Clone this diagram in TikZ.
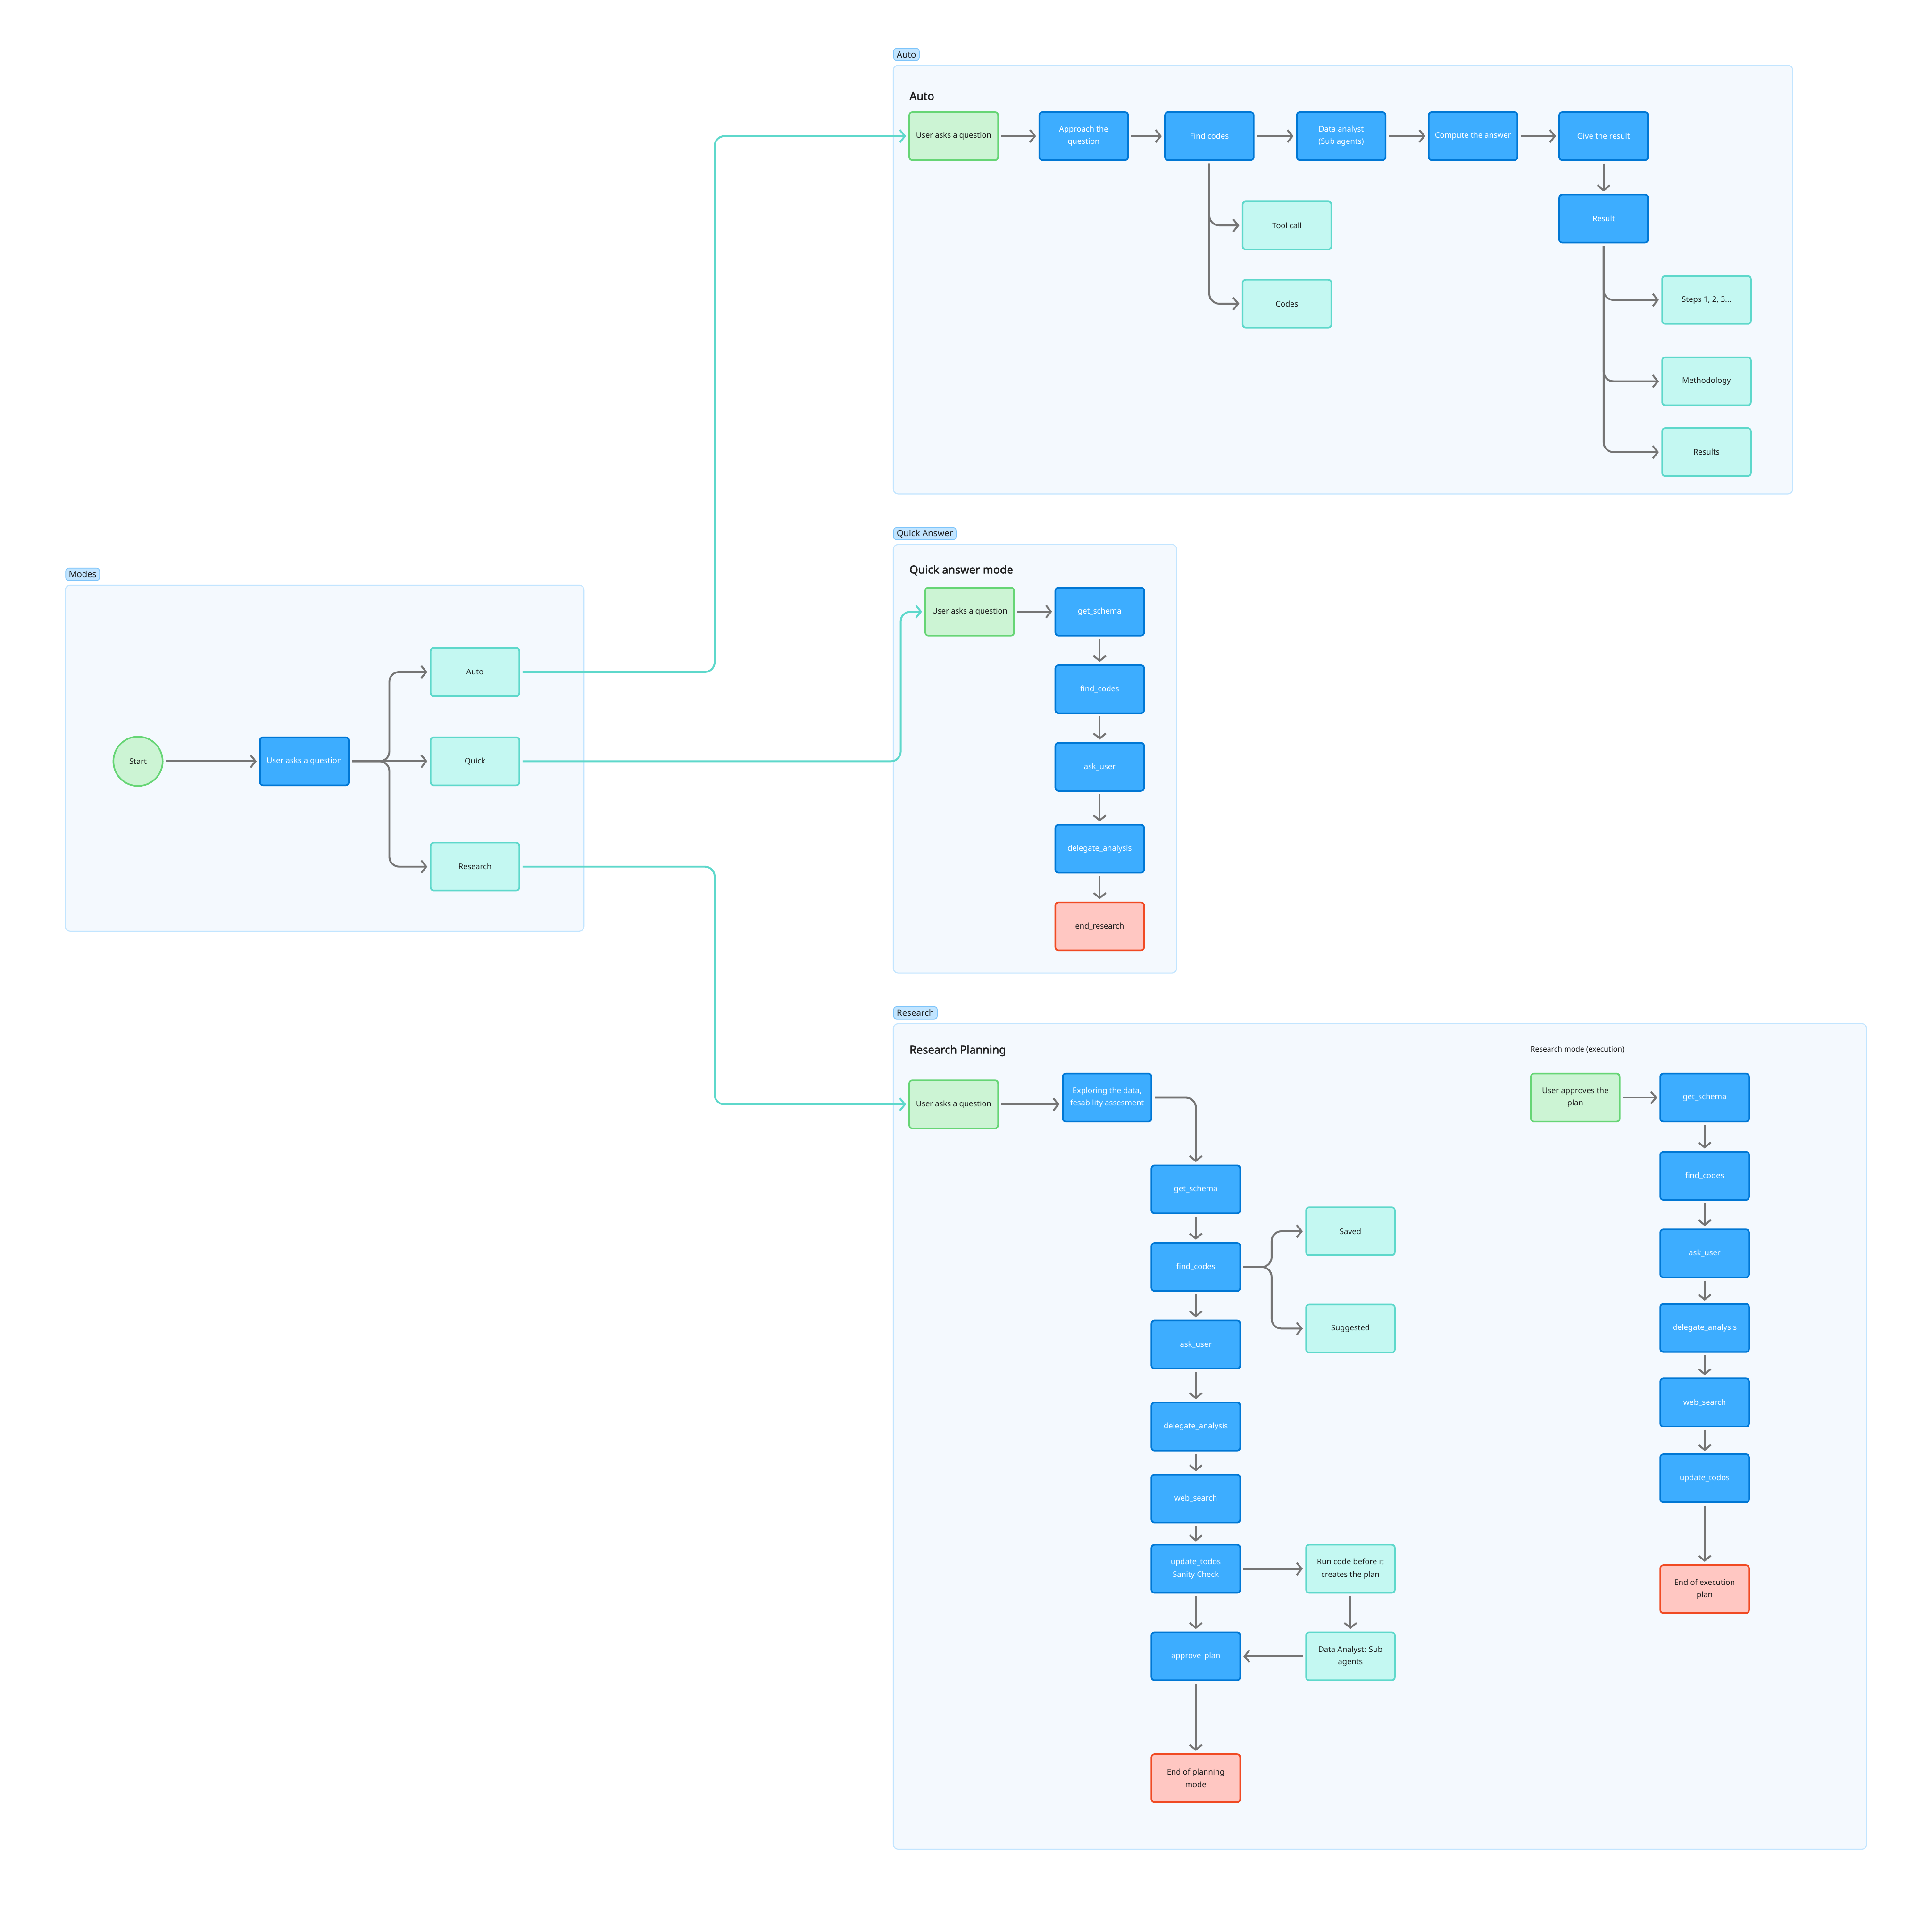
\documentclass[tikz,border=0pt]{standalone}
\usepackage{fontspec}
\setmainfont{Noto Sans}
\newfontfamily\titlefont{Noto Sans}[FakeBold=2.2]
\usetikzlibrary{arrows.meta}
\definecolor{bfill}{HTML}{3DADFF}
\definecolor{bdraw}{HTML}{0077D4}
\definecolor{gfill}{HTML}{CCF4D4}
\definecolor{gdraw}{HTML}{66D575}
\definecolor{tfill}{HTML}{C4F8F2}
\definecolor{tdraw}{HTML}{5ED8CB}
\definecolor{rfill}{HTML}{FFC7C2}
\definecolor{rdraw}{HTML}{F04A23}
\definecolor{frfill}{HTML}{F4F9FE}
\definecolor{frdraw}{HTML}{C2E5FF}
\definecolor{tagfill}{HTML}{C2E5FF}
\definecolor{tagdraw}{HTML}{7DC4FA}
\definecolor{arr}{HTML}{757575}
\definecolor{txt}{HTML}{1E1E1E}
\tikzset{
 box/.style={rectangle, rounded corners=2.5pt, minimum width=72pt, minimum height=39pt, line width=1.3pt, font=\fontsize{6.3}{10}\selectfont, align=center, inner sep=1pt},
 bluebox/.style={box, fill=bfill, draw=bdraw, text=white},
 greenbox/.style={box, fill=gfill, draw=gdraw, text=txt},
 tealbox/.style={box, fill=tfill, draw=tdraw, text=txt},
 redbox/.style={box, fill=rfill, draw=rdraw, text=txt},
 frame/.style={draw=frdraw, fill=frfill, rounded corners=4pt, line width=0.8pt},
 tag/.style={draw=tagdraw, fill=tagfill, rounded corners=2.5pt, line width=0.6pt, font=\fontsize{7.1}{8}\selectfont, text=txt, inner xsep=2.5pt, inner ysep=0pt, minimum height=10pt, anchor=south west},
 title/.style={font=\titlefont\fontsize{9}{11}\selectfont, text=txt, anchor=west, inner sep=0pt},
 conn/.style={draw=arr, line width=1.5pt, -{Straight Barb[length=4pt,width=10pt,line width=1.5pt]}, rounded corners=8pt, shorten >=2pt, shorten <=2pt},
 tconn/.style={conn, draw=tdraw}
}
\begin{document}
\begin{tikzpicture}[x=1pt,y=-1pt]
\useasboundingbox[fill=white] (0,0) rectangle (1568,1555);
% frames
\path[frame] (53,475) rectangle (474,756);
\path[frame] (725,53) rectangle (1455,401);
\path[frame] (725,442) rectangle (955,790);
\path[frame] (725,831) rectangle (1515,1501);
\node[tag] (tmodes) at (53,471.5) {Modes};
\node[tag] (tauto) at (725,49.5) {Auto};
\node[tag] (tquick) at (725,438.5) {Quick Answer};
\node[tag] (tres) at (725,827.5) {Research};
\node[title] (ttauto) at (738,78) {Auto};
\node[title] (ttquick) at (738,463) {Quick answer mode};
\node[title] (ttres) at (738,853) {Research Planning};
\node[anchor=west, inner sep=0pt, font=\fontsize{6}{8}\selectfont, text=txt] (ttexec) at (1242,852) {Research mode (execution)};

% Modes
\node[circle, minimum size=40pt, fill=gfill, draw=gdraw, line width=1.3pt, font=\fontsize{6.3}{10}\selectfont, text=txt, inner sep=0pt] (start) at (112,618) {Start};
\node[bluebox] (uq) at (247,618) {User asks a question};
\node[tealbox] (mauto) at (385.5,545.5) {Auto};
\node[tealbox] (mquick) at (385.5,618) {Quick};
\node[tealbox] (mres) at (385.5,703.5) {Research};
\draw[conn] (start) -- (uq);
\draw[conn] (uq.east) -- (316,618) |- (mauto.west);
\draw[conn] (uq.east) -- (mquick.west);
\draw[conn] (uq.east) -- (316,618) |- (mres.west);

% Auto
\node[greenbox] (aq) at (774,110.5) {User asks a question};
\node[bluebox] (aap) at (879.5,110.5) {Approach the\\question};
\node[bluebox] (afc) at (981.5,110.5) {Find codes};
\node[bluebox] (ada) at (1088.5,110.5) {Data analyst\\(Sub agents)};
\node[bluebox] (aca) at (1195.5,110.5) {Compute the answer};
\node[bluebox] (agr) at (1301.5,110.5) {Give the result};
\node[bluebox] (ares) at (1301.5,177.5) {Result};
\node[tealbox] (atool) at (1044.5,183) {Tool call};
\node[tealbox] (acodes) at (1044.5,246.5) {Codes};
\node[tealbox] (asteps) at (1385,243.5) {Steps 1, 2, 3...};
\node[tealbox] (ameth) at (1385,309.5) {Methodology};
\node[tealbox] (aresults) at (1385,367) {Results};
\draw[conn] (aq) -- (aap);
\draw[conn] (aap) -- (afc);
\draw[conn] (afc) -- (ada);
\draw[conn] (ada) -- (aca);
\draw[conn] (aca) -- (agr);
\draw[conn] (agr) -- (ares);
\draw[conn] (afc.south) |- (atool.west);
\draw[conn] (afc.south) |- (acodes.west);
\draw[conn] (ares.south) |- (asteps.west);
\draw[conn] (ares.south) |- (ameth.west);
\draw[conn] (ares.south) |- (aresults.west);

% Quick
\node[greenbox] (qq) at (787,496.5) {User asks a question};
\node[bluebox] (qgs) at (892.5,496.5) {get\_schema};
\node[bluebox] (qfc) at (892.5,559.5) {find\_codes};
\node[bluebox] (qau) at (892.5,622.5) {ask\_user};
\node[bluebox] (qda) at (892.5,689) {delegate\_analysis};
\node[redbox] (qer) at (892.5,752) {end\_research};
\draw[conn] (qq) -- (qgs);
\draw[conn] (qgs) -- (qfc);
\draw[conn] (qfc) -- (qau);
\draw[conn] (qau) -- (qda);
\draw[conn] (qda) -- (qer);

% Research planning
\node[greenbox] (rq) at (774,896.5) {User asks a question};
\node[bluebox] (rex) at (898.5,891) {Exploring the data,\\fesability assesment};
\node[bluebox] (rgs) at (970.5,965.5) {get\_schema};
\node[bluebox] (rfc) at (970.5,1028.5) {find\_codes};
\node[bluebox] (rau) at (970.5,1091.5) {ask\_user};
\node[bluebox] (rda) at (970.5,1158) {delegate\_analysis};
\node[bluebox] (rws) at (970.5,1216.5) {web\_search};
\node[bluebox] (rut) at (970.5,1273.5) {update\_todos\\Sanity Check};
\node[bluebox] (rap) at (970.5,1344.5) {approve\_plan};
\node[redbox] (rend) at (970.5,1443.5) {End of planning\\mode};
\node[tealbox] (rsaved) at (1096,999.5) {Saved};
\node[tealbox] (rsugg) at (1096,1078.5) {Suggested};
\node[tealbox] (rrun) at (1096,1273.5) {Run code before it\\creates the plan};
\node[tealbox] (rdas) at (1096,1344.5) {Data Analyst: Sub\\agents};
\draw[conn] (rq) -- (rex.west |- rq);
\draw[conn] (rex.east) -| (rgs.north);
\draw[conn] (rgs) -- (rfc);
\draw[conn] (rfc) -- (rau);
\draw[conn] (rau) -- (rda);
\draw[conn] (rda) -- (rws);
\draw[conn] (rws) -- (rut);
\draw[conn] (rut) -- (rap);
\draw[conn] (rap) -- (rend);
\draw[conn] (rfc.east) -- (1032,1028.5) |- (rsaved.west);
\draw[conn] (rfc.east) -- (1032,1028.5) |- (rsugg.west);
\draw[conn] (rut) -- (rrun);
\draw[conn] (rrun) -- (rdas);
\draw[conn] (rdas) -- (rap);

% Research execution
\node[greenbox] (xua) at (1278.5,891) {User approves the\\plan};
\node[bluebox] (xgs) at (1383.5,891) {get\_schema};
\node[bluebox] (xfc) at (1383.5,954.5) {find\_codes};
\node[bluebox] (xau) at (1383.5,1017.5) {ask\_user};
\node[bluebox] (xda) at (1383.5,1078) {delegate\_analysis};
\node[bluebox] (xws) at (1383.5,1138.5) {web\_search};
\node[bluebox] (xut) at (1383.5,1200) {update\_todos};
\node[redbox] (xend) at (1383.5,1290) {End of execution\\plan};
\draw[conn] (xua) -- (xgs);
\draw[conn] (xgs) -- (xfc);
\draw[conn] (xfc) -- (xau);
\draw[conn] (xau) -- (xda);
\draw[conn] (xda) -- (xws);
\draw[conn] (xws) -- (xut);
\draw[conn] (xut) -- (xend);

% cross connectors
\draw[tconn] (mauto.east) -| (580,110.5) -- (aq.west);
\draw[tconn] (mquick.east) -| (731,496.5) -- (qq.west);
\draw[tconn] (mres.east) -| (580,896.5) -- (rq.west);
\end{tikzpicture}
\end{document}
